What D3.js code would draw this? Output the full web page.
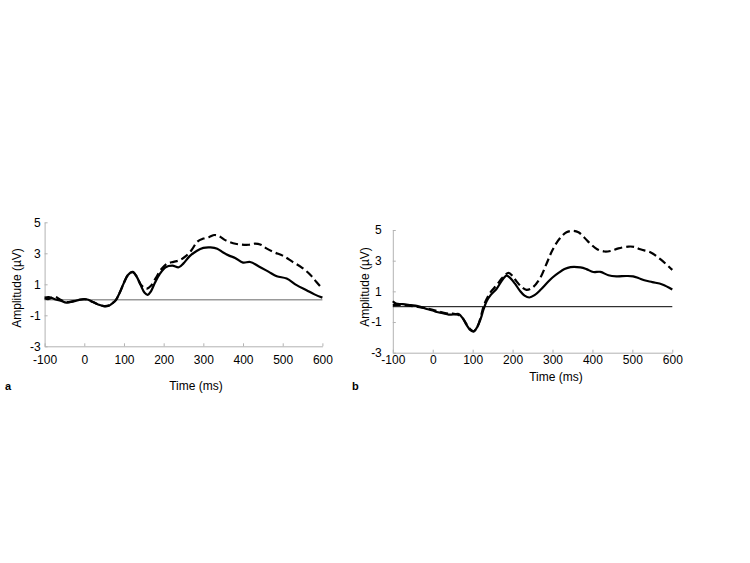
<!DOCTYPE html>
<html>
<head>
<meta charset="utf-8">
<script src="https://cdn.jsdelivr.net/npm/d3@7"></script>
<style>
  body { margin: 0; background: #fff; }
  svg { font-family: "Liberation Sans", Arial, sans-serif; }
</style>
</head>
<body>
<div id="chartDiv"></div>
<script>
// tick labels
var xTicks = [-100, 0, 100, 200, 300, 400, 500, 600];
var yTicks = [-3, -1, 1, 3, 5];

// panel a - solid
var aSolidT = [-100, -90, -80, -70, -60, -45, -30, -15, 0, 10, 20, 35, 50, 62, 72, 80, 90, 100, 110, 122, 132, 142, 152, 160, 168, 178, 190, 205, 222, 238, 250, 265, 283, 300, 318, 335, 350, 365, 380, 400, 418, 440, 465, 485, 510, 535, 560, 580, 600];
var aSolidV = [0.15, 0.18, 0.1, 0.0, -0.05, -0.18, -0.12, -0.02, 0.05, 0.0, -0.12, -0.3, -0.42, -0.38, -0.2, 0.0, 0.5, 1.1, 1.6, 1.8, 1.5, 0.95, 0.45, 0.32, 0.55, 1.1, 1.65, 2.1, 2.2, 2.1, 2.35, 2.8, 3.15, 3.35, 3.38, 3.3, 3.05, 2.85, 2.7, 2.4, 2.44, 2.15, 1.8, 1.52, 1.37, 0.95, 0.62, 0.35, 0.14];
// panel a - dashed
var aDashT = [-100, -90, -75, -60, -45, -30, -15, 0, 10, 20, 35, 50, 62, 72, 80, 90, 100, 110, 122, 132, 142, 150, 158, 168, 180, 195, 210, 225, 240, 255, 270, 285, 300, 315, 328, 340, 355, 375, 395, 415, 430, 445, 460, 480, 500, 525, 550, 570, 585, 600];
var aDashV = [0.1, 0.05, 0.2, 0.0, -0.15, -0.1, 0.0, 0.03, 0.0, -0.12, -0.3, -0.4, -0.36, -0.2, 0.0, 0.5, 1.1, 1.6, 1.78, 1.5, 1.0, 0.8, 0.72, 0.9, 1.4, 2.0, 2.35, 2.45, 2.55, 2.8, 3.2, 3.75, 3.95, 4.05, 4.18, 4.1, 3.85, 3.65, 3.56, 3.55, 3.62, 3.55, 3.3, 3.05, 2.85, 2.45, 2.05, 1.6, 1.15, 0.72];

// panel b - solid
var bSolidT = [-100, -92, -75, -55, -40, -25, -15, 0, 10, 25, 40, 55, 65, 75, 85, 95, 103, 112, 120, 127, 135, 145, 160, 172, 185, 195, 206, 218, 230, 242, 255, 270, 286, 300, 315, 330, 345, 370, 385, 402, 420, 440, 460, 485, 502, 515, 530, 550, 575, 600];
var bSolidV = [0.35, 0.2, 0.17, 0.1, 0.05, -0.05, -0.15, -0.25, -0.35, -0.42, -0.52, -0.5, -0.48, -0.75, -1.2, -1.55, -1.62, -1.3, -0.8, -0.2, 0.35, 0.75, 1.17, 1.65, 2.02, 1.85, 1.5, 1.05, 0.72, 0.6, 0.75, 1.1, 1.54, 1.9, 2.2, 2.45, 2.58, 2.56, 2.45, 2.26, 2.27, 2.05, 1.98, 2.0, 1.98, 1.87, 1.72, 1.6, 1.45, 1.12];
// panel b - dashed
var bDashT = [-100, -80, -55, -30, 0, 20, 40, 50, 65, 75, 85, 95, 103, 112, 120, 127, 135, 145, 160, 175, 190, 200, 210, 222, 235, 250, 269, 285, 300, 319, 335, 350, 365, 380, 395, 412, 430, 445, 465, 490, 505, 520, 545, 570, 600];
var bDashV = [0.1, 0.12, 0.05, -0.05, -0.2, -0.35, -0.45, -0.45, -0.55, -0.75, -1.15, -1.5, -1.6, -1.3, -0.7, 0.0, 0.5, 0.95, 1.4, 1.9, 2.2, 2.0, 1.65, 1.3, 1.1, 1.25, 1.87, 2.8, 3.7, 4.48, 4.85, 4.95, 4.85, 4.5, 4.1, 3.75, 3.6, 3.63, 3.8, 3.92, 3.9, 3.74, 3.55, 3.1, 2.4];

var svg = d3.select("#chartDiv").append("svg")
    .attr("width", 750)
    .attr("height", 563);

var panels = [
  {left: 44.6, right: 322.4, top: 222.3, bottom: 346.3, yPad: 4, xPad: 9.5,
   zeroColor: "#999", zeroWidth: 1.6,
   solid: [aSolidT, aSolidV], dash: [aDashT, aDashV],
   letter: "a", letterX: 5, timeX: 196, timeY: 390, ampX: 21, ampY: 288},
  {left: 392.8, right: 672.3, top: 230, bottom: 352.7, yPad: 11, xPad: 3,
   zeroColor: "#000", zeroWidth: 1,
   solid: [bSolidT, bSolidV], dash: [bDashT, bDashV],
   letter: "b", letterX: 352, timeX: 556, timeY: 381, ampX: 369, ampY: 287}
];

// plain hyphen for negatives, like the original
var fmt = function(d) { return String(d); };

panels.forEach(function(p) {
  var x_scale = d3.scaleLinear().domain([-100, 600]).range([p.left, p.right]);
  var y_scale = d3.scaleLinear().domain([-3, 5]).range([p.bottom, p.top]);

  var g = svg.append("g");

  var yAxis = d3.axisLeft(y_scale).tickValues(yTicks).tickFormat(fmt)
      .tickSizeInner(-3).tickSizeOuter(0).tickPadding(p.yPad);
  var xAxis = d3.axisBottom(x_scale).tickValues(xTicks).tickFormat(fmt)
      .tickSizeInner(-3).tickSizeOuter(0).tickPadding(p.xPad);

  var yG = g.append("g").attr("transform", "translate(" + p.left + ",0)").call(yAxis);
  var xG = g.append("g").attr("transform", "translate(0," + p.bottom + ")").call(xAxis);

  [yG, xG].forEach(function(ax) {
    ax.select(".domain").attr("stroke", "#b3b3b3");
    ax.selectAll(".tick line").attr("stroke", "#b3b3b3");
    ax.selectAll(".tick text").attr("fill", "#000").attr("font-size", 12)
      .attr("font-family", "'Liberation Sans', Arial, sans-serif");
  });

  // zero line
  g.append("line")
    .attr("x1", x_scale(-100)).attr("x2", x_scale(600))
    .attr("y1", y_scale(0)).attr("y2", y_scale(0))
    .attr("stroke", p.zeroColor).attr("stroke-width", p.zeroWidth);

  var line = d3.line()
    .x(function(d) { return x_scale(d[0]); })
    .y(function(d) { return y_scale(d[1]); })
    .curve(d3.curveCatmullRom.alpha(0.5));

  var dashData = p.dash[0].map(function(t, i) { return [t, p.dash[1][i]]; });
  var solidData = p.solid[0].map(function(t, i) { return [t, p.solid[1][i]]; });

  g.append("path").datum(dashData)
    .attr("d", line).attr("fill", "none")
    .attr("stroke", "#000").attr("stroke-width", 2.2)
    .attr("stroke-dasharray", "8,4");

  g.append("path").datum(solidData)
    .attr("d", line).attr("fill", "none")
    .attr("stroke", "#000").attr("stroke-width", 2.2);

  // titles
  g.append("text")
    .attr("x", p.timeX).attr("y", p.timeY)
    .attr("text-anchor", "middle").attr("font-size", 12)
    .text("Time (ms)");

  g.append("text")
    .attr("transform", "translate(" + p.ampX + "," + p.ampY + ") rotate(-90)")
    .attr("text-anchor", "middle").attr("font-size", 12)
    .text("Amplitude (µV)");

  g.append("text")
    .attr("x", p.letterX).attr("y", 390)
    .attr("font-size", 11).attr("font-weight", "bold")
    .text(p.letter);
});
</script>
</body>
</html>
